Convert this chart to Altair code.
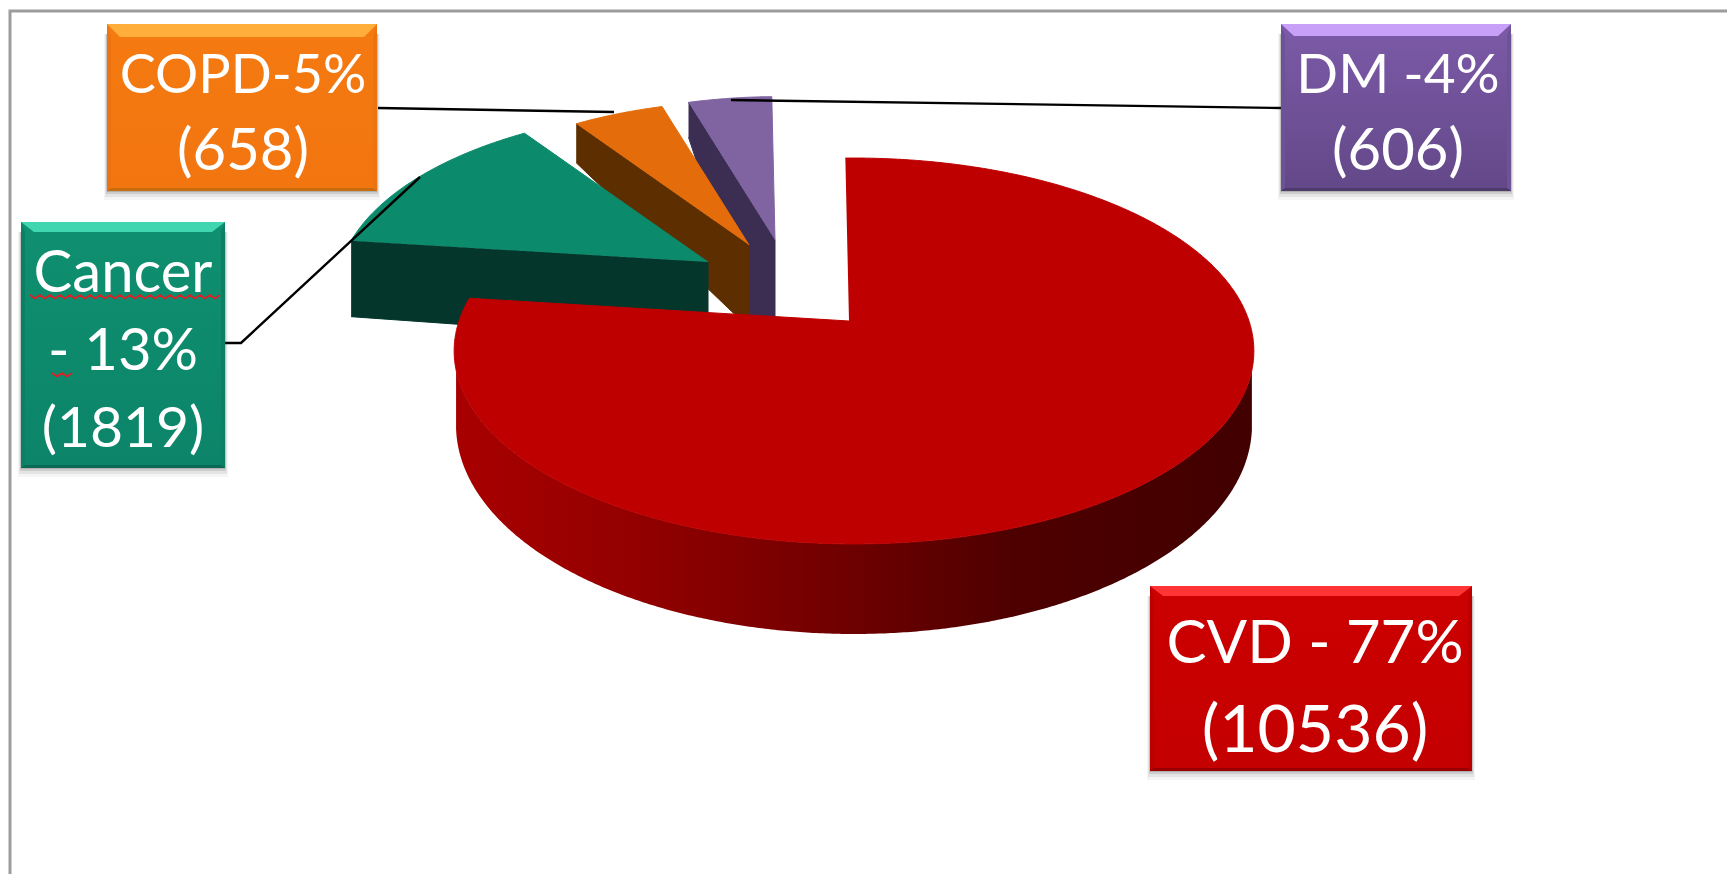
import numpy as np
import pandas as pd
import altair as alt

# ---------- chart values ----------
categories = ["CVD", "Cancer", "COPD", "DM"]
counts = [10536, 1819, 658, 606]
label_lines = [["CVD - 77%", "(10536)"], ["Cancer", "- 13%", "(1819)"], ["COPD-5%", "(658)"], ["DM -4%", "(606)"]]

# ---------- styling / layout (image pixels) ----------
W, H = 1719, 866
xs = alt.Scale(domain=[8, 8 + W], range=[0, W], nice=False, zero=False)
ys = alt.Scale(domain=[8, 8 + H], range=[0, H], nice=False, zero=False)
X = lambda f="x": alt.X(f"{f}:Q", scale=xs, axis=None)
Y = lambda f="y": alt.Y(f"{f}:Q", scale=ys, axis=None)

APEX = (849.0, 321.0)
CX, K, A, B, C = 854.0, 395.0, 321.0, -138.4, 0.1554
START = -1.45
# lower plane of the main slice's rim
LOW_A, LOW_YC, LOW_RY = 398.0, 425.0, 209.0


def project(theta):
    t = np.radians(theta)
    u, v = np.sin(t), np.cos(t)
    d = 1 + C * v
    return CX + K * u / d, (A + B * v) / d


total = sum(counts)
sweeps = [c / total * 360 for c in counts]
edges = np.cumsum([START] + sweeps)
arc = {n: (edges[i], edges[i + 1]) for i, n in enumerate(categories)}


def poly(px, py, color, stroke=True):
    df = pd.DataFrame({"x": px, "y": py, "i": range(len(px))})
    return alt.Chart(df).mark_line(
        fill=color, stroke=color, strokeWidth=1 if stroke else 0, interpolate="linear"
    ).encode(x=X(), y=Y(), order="i:Q")


def wedge(name, apex, scale, top, side, outer_steps):
    """outer_steps: (fraction along the cut edge from the rim to the apex, depth)"""
    a, b = arc[name]
    th = np.linspace(a, b, 40)
    px, py = project(th)
    px = apex[0] + scale * (px - APEX[0])
    py = apex[1] + scale * (py - APEX[1])
    ox, oy = px[0], py[0]
    fx, fy, = [], []
    for f, d in outer_steps:
        fx.append(ox + (apex[0] - ox) * f)
        fy.append(oy + (apex[1] - oy) * f + d)
    face_x = [ox, apex[0]] + fx[::-1]
    face_y = [oy, apex[1]] + fy[::-1]
    tx = list(px) + [apex[0]]
    ty = list(py) + [apex[1]]
    return [poly(face_x, face_y, side), poly(tx, ty, top)]


layers = []
# frame
frame = pd.DataFrame({"x": [10, 10, 8 + W], "y": [8 + H, 11, 11], "i": [0, 1, 2]})
layers.append(alt.Chart(frame).mark_line(color="#9c9c9c", strokeWidth=3).encode(x=X(), y=Y(), order="i:Q"))

# exploded slices, back to front
layers += wedge("DM", (775, 240), 0.88, "#8064A2", "#3B2E52", [(0, 35), (0.69, 120), (1, 78)])
layers += wedge("COPD", (749, 245), 0.885, "#E46C0A", "#5C2E00", [(0, 39), (1, 83)])
layers += wedge("Cancer", (708, 262), 0.94, "#0B8A6C", "#04362C", [(0, 76), (1, 80)])

# main slice: rim, then top
a, b = arc["CVD"]
th = np.linspace(a, b, 700)
rx, ry = project(th)
i0, i1 = int(np.argmax(rx)), int(np.argmin(rx))
sx, sy = rx[i0:i1 + 1], ry[i0:i1 + 1]
keep = np.abs(sx - CX) <= LOW_A
sx, sy = sx[keep], sy[keep]
low = LOW_YC + LOW_RY * np.sqrt(np.clip(1 - ((sx - CX) / LOW_A) ** 2, 0, 1))
side = pd.DataFrame({"x": sx, "y": low, "y2": sy})
grad = alt.Gradient(
    gradient="linear", x1=0, x2=1, y1=0, y2=0,
    stops=[
        alt.GradientStop(offset=0, color="#A80000"),
        alt.GradientStop(offset=0.2, color="#960000"),
        alt.GradientStop(offset=0.47, color="#720000"),
        alt.GradientStop(offset=0.7, color="#4E0000"),
        alt.GradientStop(offset=1, color="#420000"),
    ],
)
layers.append(
    alt.Chart(side).mark_area(color=grad, interpolate="linear").encode(
        x=X(), y=Y(), y2="y2:Q",
    )
)
layers.append(poly(list(rx) + [APEX[0]], list(ry) + [APEX[1]], "#BE0000"))

# leader lines
leaders = {
    "COPD": ([378, 614], [108, 112]),
    "DM": ([1281, 731], [108, 100]),
    "Cancer": ([225, 241, 420], [343, 343, 177]),
}
for n, (lx, ly) in leaders.items():
    d = pd.DataFrame({"x": lx, "y": ly, "i": range(len(lx))})
    layers.append(alt.Chart(d).mark_line(color="#000000", strokeWidth=2.4).encode(x=X(), y=Y(), order="i:Q"))

# label boxes: x0, x1, y0, y1, face top, face bottom, bevel top, bevel bottom, bevel side, bevel height
boxes = {
    "COPD": (107, 377, 24, 191, "#F57A10", "#F27510", "#FFAE3C", "#C86C10", "#EC7410", 13),
    "Cancer": (21, 225, 222, 468, "#0F9070", "#0C8469", "#3FD6B0", "#0A6A55", "#0C8065", 10),
    "DM": (1281, 1511, 24, 191, "#7C5AA8", "#634888", "#C8A0F8", "#4C3A6A", "#6E5296", 12),
    "CVD": (1150, 1472, 586, 771, "#CC0000", "#C40000", "#FF3434", "#980000", "#BC0000", 10),
}
for n, (x0, x1, y0, y1, f0, f1, bt, bb, bs, t) in boxes.items():
    for e, o in [(9, 0.05), (6, 0.09), (3, 0.14), (1, 0.2)]:
        s = pd.DataFrame({"x": [x0 - e / 3], "x2": [x1 + e / 3], "y": [y0 + 10], "y2": [y1 + e]})
        layers.append(alt.Chart(s).mark_rect(color="#404040", opacity=o).encode(x=X(), x2="x2:Q", y=Y(), y2="y2:Q"))
    face = alt.Gradient(gradient="linear", x1=0, x2=0, y1=0, y2=1,
                        stops=[alt.GradientStop(offset=0, color=f0), alt.GradientStop(offset=1, color=f1)])
    s = pd.DataFrame({"x": [x0], "x2": [x1], "y": [y0], "y2": [y1]})
    layers.append(alt.Chart(s).mark_rect(color=face).encode(x=X(), x2="x2:Q", y=Y(), y2="y2:Q"))
    m, bo = 13, 3
    layers.append(poly([x0, x1, x1 - m, x0 + m], [y0, y0, y0 + t, y0 + t], bt, False))
    layers.append(poly([x0, x0 + 4, x0 + 4, x0], [y0, y0 + t, y1 - bo, y1], bs, False))
    layers.append(poly([x1, x1 - 4, x1 - 4, x1], [y0, y0 + t, y1 - bo, y1], bs, False))
    layers.append(poly([x0, x1, x1 - 4, x0 + 4], [y1, y1, y1 - bo, y1 - bo], bb, False))

# label text
baselines = {"CVD": [663, 752], "Cancer": [292, 370, 447], "COPD": [93, 170], "DM": [93, 170]}
centers = {"CVD": 1315, "Cancer": 123, "COPD": 243, "DM": 1398}
font_sizes = {"CVD": [60, 66], "Cancer": [58, 58, 57], "COPD": [54, 58], "DM": [55, 58]}
text_rows = []
for n, lines in zip(categories, label_lines):
    for line, base, fs in zip(lines, baselines[n], font_sizes[n]):
        text_rows.append({"x": centers[n], "y": base, "t": line, "fs": fs})
layers.append(
    alt.Chart(pd.DataFrame(text_rows)).mark_text(
        font="Lato", color="#FFFFFF", align="center", baseline="alphabetic"
    ).encode(x=X(), y=Y(), text="t:N", size=alt.Size("fs:Q", scale=None, legend=None))
)

# spell-check squiggles
for qx0, qx1, qy in [(30, 222, 295), (52, 72, 373)]:
    sq_x = np.arange(qx0, qx1 + 1, 5.0)
    sq_y = qy + 3.5 * (np.arange(len(sq_x)) % 2)
    d = pd.DataFrame({"x": sq_x, "y": sq_y, "i": range(len(sq_x))})
    layers.append(alt.Chart(d).mark_line(color="#E01E26", strokeWidth=1.8).encode(x=X(), y=Y(), order="i:Q"))

chart = alt.layer(*layers).properties(
    width=W, height=H, padding=0, autosize=alt.AutoSizeParams(type="none"), background="#FFFFFF"
).configure_view(stroke=None)

chart.save("out.html", embed_options={"renderer": "svg", "actions": False})
